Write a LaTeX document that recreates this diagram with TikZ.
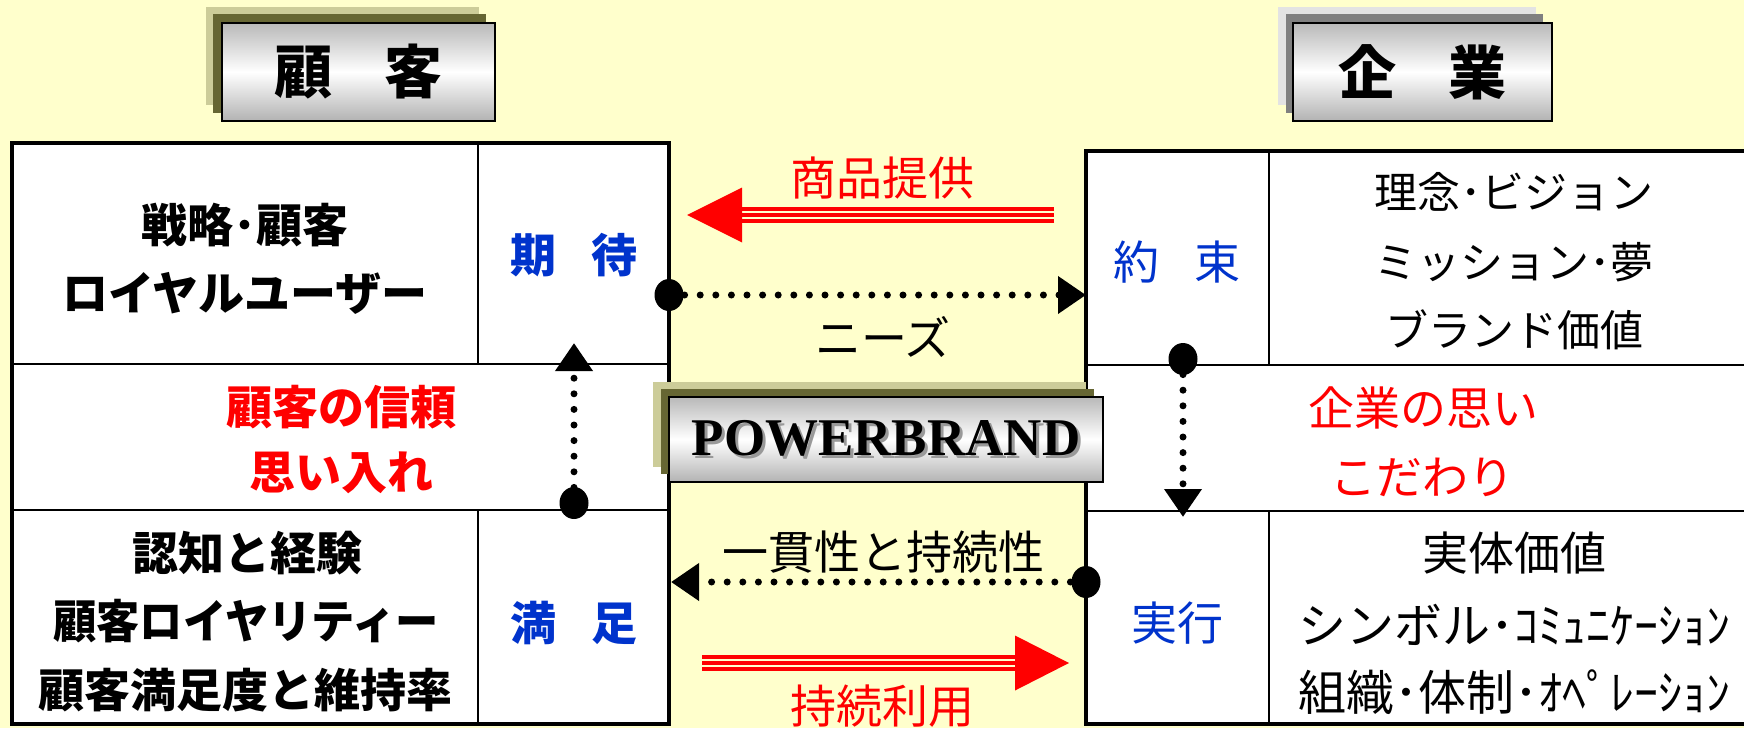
\documentclass[tikz,border=0pt]{standalone}
\usepackage{fontspec}
\newfontfamily\jp{Noto Sans CJK JP}
\newfontfamily\tms{Liberation Serif}
\usetikzlibrary{arrows.meta,shapes.geometric}
\definecolor{bgyellow}{HTML}{FFFFCC}
\definecolor{oliveL}{HTML}{CCCC99}
\definecolor{oliveD}{HTML}{666633}
\definecolor{grayL}{HTML}{E3E3E3}
\definecolor{grayD}{HTML}{808080}
\definecolor{jblue}{HTML}{0033CC}
\definecolor{jred}{HTML}{FF0000}
\tikzset{
  jt/.style={inner sep=0pt, anchor=center, font={\jp\fontsize{46}{50}\selectfont}},
  jtB/.style={jt, font={\jp\bfseries\fontsize{46}{50}\selectfont}},
  jts/.style={jt, font={\jp\fontsize{43}{48}\selectfont}},
  jtl/.style={jt, font={\jp\fontsize{48}{52}\selectfont}},
  titlebox/.style={draw=black, line width=2.5pt, top color=gray!55, bottom color=gray!60, middle color=white, inner sep=0pt},
  dotline/.style={line width=7pt, dash pattern=on 0pt off 15.6pt, line cap=round, -{Triangle[length=28pt,width=36pt]}},
  bigdot/.style={fill=black, ellipse, minimum width=29pt, minimum height=32pt, inner sep=0pt},
  redline/.style={draw=jred, line width=3.5pt},
  thick4/.style={line width=4.5pt},
  thin2/.style={line width=2.5pt}
}
\begin{document}
\begin{tikzpicture}[x=1pt,y=-1pt]
\fill[bgyellow] (0,0) rectangle (1744,728);
\useasboundingbox (0,0) rectangle (1744,728);

% ---- left table
\fill[white] (12,143) rectangle (669,724);
\draw[thin2] (478,143) -- (478,364);
\draw[thin2] (12,364) -- (669,364);
\draw[thin2] (12,510) -- (669,510);
\draw[thin2] (478,510) -- (478,724);
\draw[thick4] (12,143) rectangle (669,724);

% ---- right table
\begin{scope}
\clip (0,0) rectangle (1744,728);
\fill[white] (1086,151) rectangle (1770,724);
\draw[thin2] (1269,151) -- (1269,365);
\draw[thin2] (1086,365) -- (1770,365);
\draw[thin2] (1086,511) -- (1770,511);
\draw[thin2] (1269,511) -- (1269,724);
\draw[thick4] (1086,151) rectangle (1770,724);
\end{scope}

% ---- title boxes
\fill[oliveL] (206,7) rectangle (479,105);
\fill[oliveD] (213,14) rectangle (486,113);
\node[titlebox, minimum width=273pt, minimum height=98pt, font={\jp\bfseries\fontsize{58}{60}\selectfont}] (kokyaku) at (358.5,72) {顧\hspace{52pt}客};

\fill[grayL] (1278,7) rectangle (1536,105);
\fill[grayD] (1286,14) rectangle (1543,113);
\node[titlebox, minimum width=259pt, minimum height=98pt, font={\jp\bfseries\fontsize{58}{60}\selectfont}] (kigyo) at (1422.5,72) {企\hspace{52pt}業};

% ---- left texts
\node[jtB] (l1) at (245,225) {戦略･顧客};
\node[jtB] (l2) at (245,293) {ロイヤルユーザー};
\node[jtB, text=jblue] (kitai) at (574,255) {期\hspace{35pt}待};
\node[jtB, text=jred] (shinrai) at (341,407) {顧客の信頼};
\node[jtB, text=jred] (omoiire) at (341,473) {思い入れ};
\node[jtB] (l3) at (247,553) {認知と経験};
\node[jtB] (l4) at (246,621) {\scalebox{0.94}[1]{顧客ロイヤリティー}};
\node[jtB] (l5) at (245,690) {顧客満足度と維持率};
\node[jtB, text=jblue] (manzoku) at (574,623) {満\hspace{35pt}足};

% ---- right texts
\node[jt, text=jblue] (yakusoku) at (1177,262) {約\hspace{35pt}束};
\node[jts] (r1) at (1514,192) {理念･ビジョン};
\node[jts] (r2) at (1514,262) {ミッション･夢};
\node[jts] (r3) at (1514,330) {ブランド価値};
\node[jt, text=jred] (omoi) at (1423,408) {企業の思い};
\node[jt, text=jred] (kodawari) at (1422,477) {こだわり};
\node[jt, text=jblue] (jikko) at (1177,623) {実行};
\node[jt] (r4) at (1514,553) {実体価値};
\node[jtl] (r5) at (1514,625) {シンボル･ｺﾐｭﾆｹｰｼｮﾝ};
\node[jtl] (r6) at (1514,692) {組織･体制･ｵﾍﾟﾚｰｼｮﾝ};

% ---- middle texts
\node[jt, text=jred] (shohin) at (882,178) {商品提供};
\node[jt] (needs) at (883,337) {ニーズ};
\node[jt] (ikkan) at (883,552) {一貫性と持続性};
\node[jt, text=jred] (jizoku) at (882,706) {持続利用};

% ---- red arrows
\coordinate (a1tail) at (1054,215);
\coordinate (a1base) at (742,215);
\coordinate (a1tip) at (687,215);
\draw[redline] ([yshift=5.8pt]a1tail) -- ([yshift=5.8pt]a1base);
\draw[redline] (a1tail) -- (a1base);
\draw[redline] ([yshift=-5.8pt]a1tail) -- ([yshift=-5.8pt]a1base);
\fill[jred] (a1tip) -- ([yshift=27.5pt]a1base) -- ([yshift=-27.5pt]a1base) -- cycle;

\coordinate (a2tail) at (702,663);
\coordinate (a2base) at (1015,663);
\coordinate (a2tip) at (1069,663);
\draw[redline] ([yshift=5.8pt]a2tail) -- ([yshift=5.8pt]a2base);
\draw[redline] (a2tail) -- (a2base);
\draw[redline] ([yshift=-5.8pt]a2tail) -- ([yshift=-5.8pt]a2base);
\fill[jred] (a2tip) -- ([yshift=27.5pt]a2base) -- ([yshift=-27.5pt]a2base) -- cycle;

% ---- dotted arrows
\coordinate (nd) at (669,295);
\coordinate (nt) at (1086,295);
\draw[dotline] (nd) -- (nt);
\node[bigdot] (ndot) at (nd) {};

\coordinate (id) at (1086,582);
\coordinate (it) at (671,582);
\draw[dotline] (id) -- (it);
\node[bigdot] (idot) at (id) {};

\coordinate (ld) at (574,503);
\coordinate (lt) at (574,343);
\draw[dotline] (ld) -- (lt);
\node[bigdot] (ldot) at (ld) {};

\coordinate (rd) at (1183,359);
\coordinate (rt) at (1183,517);
\draw[dotline] (rd) -- (rt);
\node[bigdot] (rdot) at (rd) {};

% ---- POWERBRAND
\fill[oliveL] (653,382) rectangle (1086,467);
\fill[oliveD] (661,389) rectangle (1094,474);
\node[titlebox, minimum width=434pt, minimum height=85pt, font={\tms\bfseries\fontsize{53}{55}\selectfont}] (pb) at (886,439.5)
  {\makebox[0pt][l]{\hspace{3pt}\raisebox{-3pt}{\color{gray!80}POWERBRAND}}POWERBRAND};
\end{tikzpicture}
\end{document}
